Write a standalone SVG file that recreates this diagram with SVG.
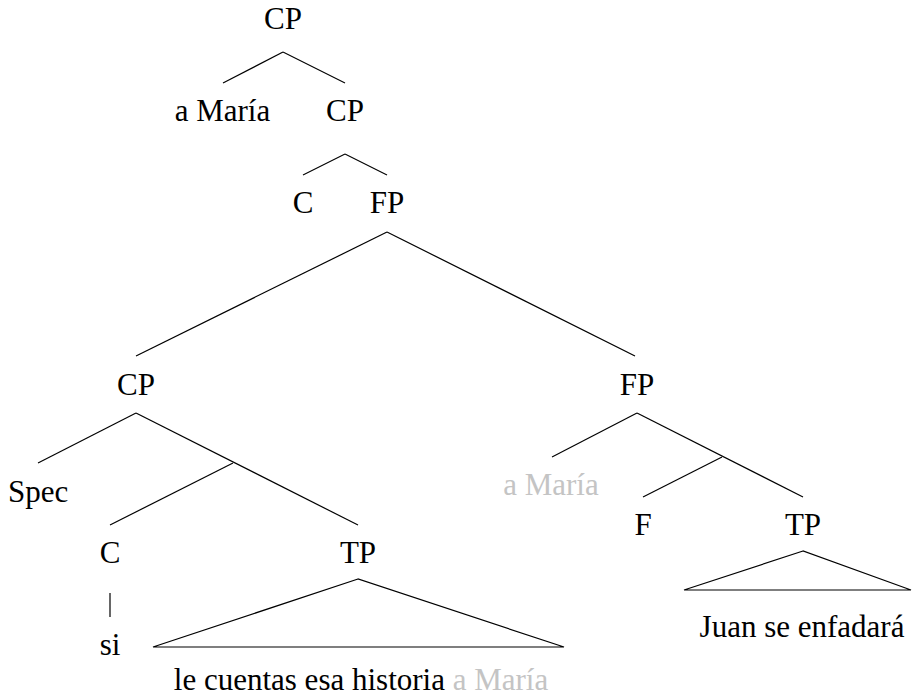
<svg xmlns="http://www.w3.org/2000/svg" width="912" height="700" viewBox="0 0 912 700">
<rect width="912" height="700" fill="#fff"/>
<g id="connectors" stroke="#000" stroke-width="1.2" fill="none">
<line x1="283" y1="52" x2="223" y2="83"/>
<line x1="283" y1="52" x2="345" y2="83"/>
<line x1="345" y1="154" x2="303" y2="175"/>
<line x1="345" y1="154" x2="387" y2="175"/>
<line x1="387" y1="232" x2="136" y2="356"/>
<line x1="387" y1="232" x2="635" y2="356"/>
<line x1="136" y1="413" x2="38" y2="463"/>
<line x1="136" y1="413" x2="358" y2="525"/>
<line x1="233" y1="463" x2="110" y2="525"/>
<line x1="110" y1="593" x2="110" y2="617"/>
<polygon points="358,579 153,647 564,647"/>
<line x1="637" y1="413" x2="552" y2="457"/>
<line x1="637" y1="413" x2="803" y2="497"/>
<line x1="722" y1="457" x2="643" y2="497"/>
<polygon points="803,551 684,590 911,590"/>
</g>
<g id="n-cp-root"><text font-family="Liberation Serif" font-size="31" x="264" y="29">CP</text></g>
<g id="n-amaria"><text font-family="Liberation Serif" font-size="31" x="174.7" y="121">a María</text></g>
<g id="n-cp2"><text font-family="Liberation Serif" font-size="31" x="326" y="121">CP</text></g>
<g id="n-c1"><text font-family="Liberation Serif" font-size="31" x="292.7" y="213">C</text></g>
<g id="n-fp1"><text font-family="Liberation Serif" font-size="31" x="369.8" y="213">FP</text></g>
<g id="n-cp3"><text font-family="Liberation Serif" font-size="31" x="117" y="395">CP</text></g>
<g id="n-fp2"><text font-family="Liberation Serif" font-size="31" x="619.8" y="395">FP</text></g>
<g id="n-spec"><text font-family="Liberation Serif" font-size="31" x="7.9" y="502">Spec</text></g>
<g id="n-c2"><text font-family="Liberation Serif" font-size="31" x="99.7" y="563">C</text></g>
<g id="n-tp1"><text font-family="Liberation Serif" font-size="31" x="339.9" y="563">TP</text></g>
<g id="n-si"><text font-family="Liberation Serif" font-size="31" x="99.7" y="655">si</text></g>
<g id="n-tp1-yield"><text font-family="Liberation Serif" font-size="31" x="173.8" y="690">le cuentas esa historia <tspan fill="#c4c4c4">a María</tspan></text></g>
<g id="n-amaria-trace"><text font-family="Liberation Serif" font-size="31" fill="#c4c4c4" x="503.2" y="495">a María</text></g>
<g id="n-f"><text font-family="Liberation Serif" font-size="31" x="634.4" y="535">F</text></g>
<g id="n-tp2"><text font-family="Liberation Serif" font-size="31" x="784.9" y="535">TP</text></g>
<g id="n-tp2-yield"><text font-family="Liberation Serif" font-size="31" x="699.6" y="637">Juan se enfadará</text></g>
</svg>
